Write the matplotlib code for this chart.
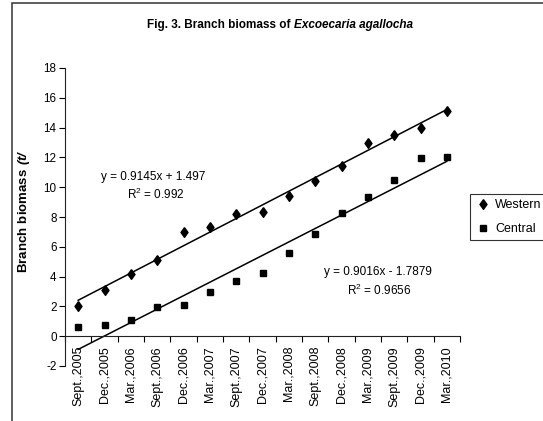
import numpy as np
import matplotlib
matplotlib.use("Agg")
import matplotlib.pyplot as plt
from matplotlib.patches import Rectangle

plt.rcParams['font.family'] = ['Liberation Sans', 'DejaVu Sans']
plt.rcParams['axes.unicode_minus'] = False
plt.rcParams['mathtext.fontset'] = 'custom'
plt.rcParams['mathtext.rm'] = 'Liberation Sans'
plt.rcParams['mathtext.bf'] = 'Liberation Sans:bold'
plt.rcParams['mathtext.bfit'] = 'Liberation Sans:italic:bold'

# data
dates = ['Sept.,2005', 'Dec.,2005', 'Mar.,2006', 'Sept.,2006', 'Dec.,2006',
         'Mar.,2007', 'Sept.,2007', 'Dec.,2007', 'Mar.,2008', 'Sept.,2008',
         'Dec.,2008', 'Mar.,2009', 'Sept.,2009', 'Dec.,2009', 'Mar.,2010']
western = [2.06, 3.08, 4.18, 5.1, 7.0, 7.3, 8.22, 8.36, 9.38, 10.44,
           11.4, 12.96, 13.51, 13.96, 15.11]
central = [0.6, 0.76, 1.07, 1.97, 2.12, 2.97, 3.69, 4.22, 5.59, 6.88,
           8.27, 9.33, 10.49, 11.93, 12.04]

# linear trendlines as printed on the chart
west_fit = (0.9145, 1.497, 0.992)
cent_fit = (0.9016, -1.7879, 0.9656)

W, H = 543, 421
fig = plt.figure(figsize=(W/100, H/100), dpi=100)
ax = fig.add_axes([65/W, 1-366/H, 395/W, 298/H])

x = np.arange(1, len(dates)+1)

# diamond slightly taller than wide
diamond = [(0, 1), (0.72, 0), (0, -1), (-0.72, 0), (0, 1)]
ax.plot(x, western, linestyle='none', marker=diamond, markersize=7,
        color='black', label='Western')
ax.plot(x, central, linestyle='none', marker='s', markersize=4.3,
        color='black', label='Central')

xs = np.array([x[0], x[-1]])
ax.plot(xs, west_fit[0]*xs + west_fit[1], color='black', lw=1.1)
ax.plot(xs, cent_fit[0]*xs + cent_fit[1], color='black', lw=1.1)

ax.text(3.85, 10.7, 'y = %.4fx + %.3f' % (west_fit[0], west_fit[1]),
        ha='center', va='center', fontsize=8.5)
ax.text(3.95, 9.55, 'R$^2$ = %.3f' % west_fit[2], ha='center', va='center', fontsize=8.5)
ax.text(12.4, 4.3, 'y = %.4fx - %.4f' % (cent_fit[0], -cent_fit[1]),
        ha='center', va='center', fontsize=8.5)
ax.text(12.45, 3.1, 'R$^2$ = %.4f' % cent_fit[2], ha='center', va='center', fontsize=8.5)

# axes styling (Excel-like)
ax.set_xlim(0.5, len(dates)+0.5)
ax.set_ylim(-2, 18)
ax.set_yticks(np.arange(-2, 19, 2))
ax.spines['top'].set_visible(False)
ax.spines['right'].set_visible(False)
ax.spines['bottom'].set_position(('data', 0))
for s in ['left', 'bottom']:
    ax.spines[s].set_linewidth(0.8)
    ax.spines[s].set_color('#222222')

ax.set_xticks(np.arange(0.5, len(dates)+1, 1))
ax.set_xticklabels([])
ax.set_xticks(x, minor=True)
ax.set_xticklabels(dates, minor=True, rotation=90, fontsize=9)
ax.tick_params(axis='x', which='major', direction='out', length=4, width=0.8)
ax.tick_params(axis='x', which='minor', length=0, pad=7)
ax.tick_params(axis='y', direction='out', length=4, width=0.8, pad=2, labelsize=8.4)

ax.set_ylabel(r'$\mathbf{Branch\ biomass}\ \mathbfit{(t/}$', fontsize=9.5)
ax.yaxis.set_label_coords(-0.083, 0.52)

# title: bold part + bold italic species name, centred as one line
renderer = fig.canvas.get_renderer()
t1 = fig.text(0, 1-25/H, 'Fig. 3. Branch biomass of ', fontsize=8.5,
              fontweight='bold', va='center')
t2 = fig.text(0, 1-25/H, 'Excoecaria agallocha', fontsize=8.5,
              fontweight='bold', fontstyle='italic', va='center')
w1 = t1.get_window_extent(renderer).width
w2 = t2.get_window_extent(renderer).width
x0 = 280 - (w1 + w2) / 2
t1.set_x(x0 / W)
t2.set_x((x0 + w1) / W)

leg = fig.legend(loc='upper left', bbox_to_anchor=(470/W, 1-194/H),
                 bbox_transform=fig.transFigure, fontsize=9, frameon=True,
                 fancybox=False, edgecolor='black', borderpad=0.4,
                 labelspacing=0.95, handlelength=1.3, handletextpad=0.3,
                 borderaxespad=0)
leg.get_frame().set_linewidth(0.8)

# outer chart border (cropped on the right and bottom in the original)
fig.patches.append(Rectangle((12/W, -0.05), 1.0, 1.05 - 3/H, fill=False,
                             edgecolor='#333333', lw=1.1,
                             transform=fig.transFigure, figure=fig))

fig.savefig('out.png', dpi=100)
